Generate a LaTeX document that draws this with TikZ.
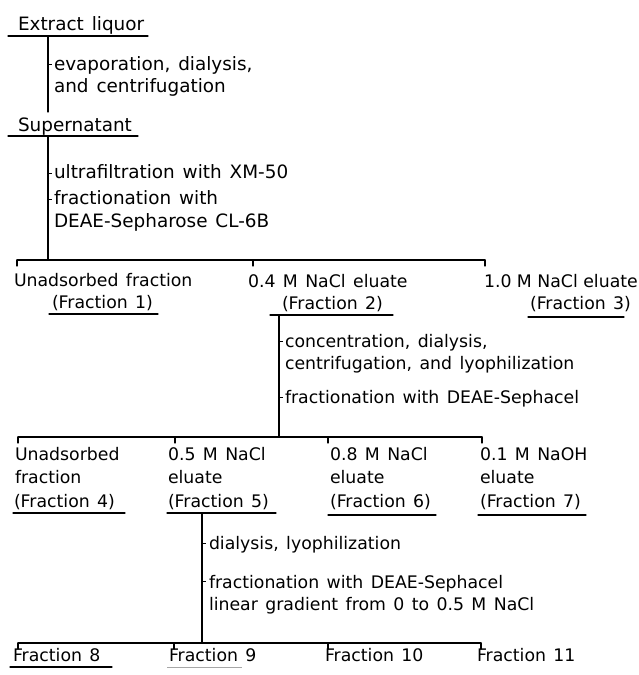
\documentclass[tikz,border=0pt]{standalone}
\usepackage{fontspec}
\setmainfont{DejaVu Sans}[WordSpace=1.35]
\newfontfamily\plainspace{DejaVu Sans}
\begin{document}
\begin{tikzpicture}[x=1pt,y=-1pt,
  lbl/.style={anchor=base west,inner sep=0pt,outer sep=0pt,font=\fontsize{17.3}{21}\selectfont},
  lbltop/.style={lbl,font=\fontsize{18.4}{22}\selectfont},
  ln/.style={line width=1.2pt,line cap=round},
  tk/.style={line width=1pt},
  faint/.style={line width=0.8pt,black!35}]
\useasboundingbox (0,0) rectangle (638,675);
% ---- level 0
\node[lbltop] (ext) at (18,30) {Extract liquor};
\coordinate (extL) at (8,36); \coordinate (extR) at (148,36);
\draw[ln] (extL) -- (extR);
\coordinate (v1a) at (48,36); \coordinate (v1b) at (48,112);
\draw[ln] (v1a) -- (v1b);
\node[lbltop] (evap1) at (54,70) {evaporation, dialysis,};
\node[lbltop] (evap2) at (54,92) {and centrifugation};
\draw[tk] (48,64) -- (52,64);
\node[lbltop] (sup) at (18,131) {Supernatant};
\coordinate (supL) at (8,136); \coordinate (supR) at (138,136);
\draw[ln] (supL) -- (supR);
\coordinate (v2a) at (48,136); \coordinate (v2b) at (48,260);
\draw[ln] (v2a) -- (v2b);
\node[lbltop] (ultra) at (54,178) {ultrafiltration with XM-50};
\draw[tk] (48,173) -- (52,173);
\node[lbltop] (fracA1) at (54,204) {fractionation with};
\node[lbltop] (fracA2) at (54,227) {DEAE-Sepharose CL-6B};
\draw[tk] (48,199) -- (52,199);
% ---- bar 1
\coordinate (b1L) at (17,260); \coordinate (b1M) at (253,260); \coordinate (b1R) at (485,260);
\draw[ln] (b1L) -- (b1R);
\draw[ln] (b1L) -- ++(0,6);
\draw[ln] (b1M) -- ++(0,6);
\draw[ln] (b1R) -- ++(0,6);
% ---- row 1
\node[lbl] (f1a) at (14,286) {Unadsorbed fraction};
\node[lbl] (f1b) at (52,308) {(Fraction 1)};
\draw[ln] (49,314) -- (158,314);
\node[lbl] (f2a) at (248,287) {0.4 M NaCl eluate};
\node[lbl] (f2b) at (282,309) {(Fraction 2)};
\coordinate (f2uL) at (270,315); \coordinate (f2uR) at (393,315);
\draw[ln] (f2uL) -- (f2uR);
\node[lbl,font=\plainspace\fontsize{17.3}{21}\selectfont] (f3a) at (484,287) {1.0 M NaCl eluate};
\node[lbl] (f3b) at (530,309) {(Fraction 3)};
\draw[ln] (528,317) -- (624,317);
% ---- vertical 2
\coordinate (v3a) at (279,315); \coordinate (v3b) at (279,437);
\draw[ln] (v3a) -- (v3b);
\node[lbl] (conc1) at (285,347) {concentration, dialysis,};
\node[lbl] (conc2) at (285,369) {centrifugation, and lyophilization};
\draw[tk] (279,341) -- (283,341);
\node[lbl] (fracB) at (285,403) {fractionation with DEAE-Sephacel};
\draw[tk] (279,397) -- (283,397);
% ---- bar 2
\coordinate (b2a) at (18,437); \coordinate (b2b) at (175,437);
\coordinate (b2c) at (328,437); \coordinate (b2d) at (482,437);
\draw[ln] (b2a) -- (b2d);
\foreach \p in {b2a,b2b,b2c,b2d} \draw[ln] (\p) -- ++(0,6);
% ---- row 2
\node[lbl] (f4a) at (15,460) {Unadsorbed};
\node[lbl] (f4b) at (15,483) {fraction};
\node[lbl] (f4c) at (14,507) {(Fraction 4)};
\draw[ln] (13,513) -- (125,513);
\node[lbl] (f5a) at (168,460) {0.5 M NaCl};
\node[lbl] (f5b) at (168,483) {eluate};
\node[lbl] (f5c) at (168,507) {(Fraction 5)};
\draw[ln] (167,513) -- (276,513);
\node[lbl] (f6a) at (330,460) {0.8 M NaCl};
\node[lbl] (f6b) at (330,483) {eluate};
\node[lbl] (f6c) at (330,507) {(Fraction 6)};
\draw[ln] (328,515) -- (436,515);
\node[lbl] (f7a) at (480,460) {0.1 M NaOH};
\node[lbl] (f7b) at (480,483) {eluate};
\node[lbl] (f7c) at (480,507) {(Fraction 7)};
\draw[ln] (478,515) -- (586,515);
% ---- vertical 3
\coordinate (v4a) at (202,513); \coordinate (v4b) at (202,643);
\draw[ln] (v4a) -- (v4b);
\node[lbl] (dial) at (209,549) {dialysis, lyophilization};
\draw[tk] (202,543) -- (206,543);
\node[lbl] (fracC1) at (209,588) {fractionation with DEAE-Sephacel};
\node[lbl] (fracC2) at (209,610) {linear gradient from 0 to 0.5 M NaCl};
\draw[tk] (202,581) -- (206,581);
% ---- bar 3
\coordinate (b3a) at (18,643); \coordinate (b3b) at (174,643);
\coordinate (b3c) at (328,643); \coordinate (b3d) at (481,643);
\draw[ln] (b3a) -- (b3d);
\foreach \p in {b3a,b3b,b3c,b3d} \draw[ln] (\p) -- ++(0,6);
% ---- row 3
\node[lbl] (f8) at (13,661) {Fraction 8};
\draw[ln] (10,667) -- (112,667);
\node[lbl] (f9) at (169,661) {Fraction 9};
\draw[faint] (167,667) -- (242,667);
\node[lbl] (f10) at (325,661) {Fraction 10};
\node[lbl] (f11) at (477,661) {Fraction 11};
\end{tikzpicture}
\end{document}
